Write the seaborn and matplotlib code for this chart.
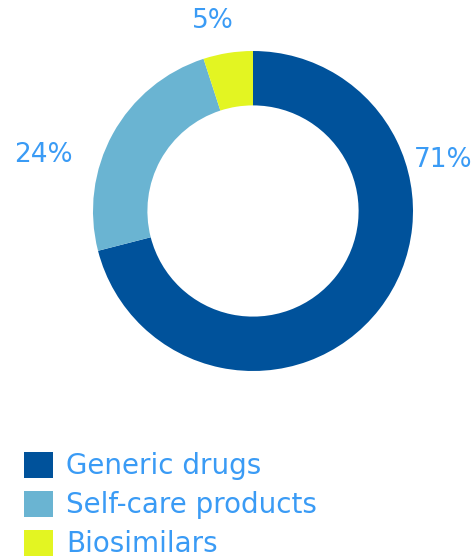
import matplotlib
matplotlib.use("Agg")
import matplotlib.pyplot as plt
import seaborn as sns
from matplotlib.patches import Patch

categories = ["Generic drugs", "Self-care products", "Biosimilars"]
values = [71, 24, 5]
pct_labels = ["71%", "24%", "5%"]
colors = ["#00529B", "#6AB4D2", "#E3F522"]
text_color = "#3A9BF5"

sns.set_theme(style="white")
plt.rcParams["font.family"] = ["DejaVu Sans"]

fig = plt.figure(figsize=(4.77, 5.6), dpi=100)
ax = fig.add_axes([93 / 477, (560 - 211 - 160) / 560, 320 / 477, 320 / 560])
wedges, _ = ax.pie(values, colors=colors, startangle=90, counterclock=False,
                   radius=1.0, wedgeprops=dict(width=0.34, linewidth=0))
ax.set_xlim(-1, 1)
ax.set_ylim(-1, 1)
ax.set_aspect("equal")
ax.axis("off")

label_pos = [(1.19, 0.32), (-1.31, 0.35), (-0.25, 1.19)]
for (x, y), t in zip(label_pos, pct_labels):
    ax.text(x, y, t, ha="center", va="center", fontsize=19, color=text_color,
            clip_on=False)

handles = [Patch(facecolor=c, edgecolor="none") for c in colors]
leg = fig.legend(handles, categories, loc="upper left",
                 bbox_to_anchor=(13 / 477, 1 - 441 / 560), frameon=False,
                 fontsize=20, handlelength=1.05, handleheight=1.05,
                 handletextpad=0.45, labelspacing=0.38, borderaxespad=0)
for t in leg.get_texts():
    t.set_color(text_color)

fig.savefig("out.png", dpi=100)
